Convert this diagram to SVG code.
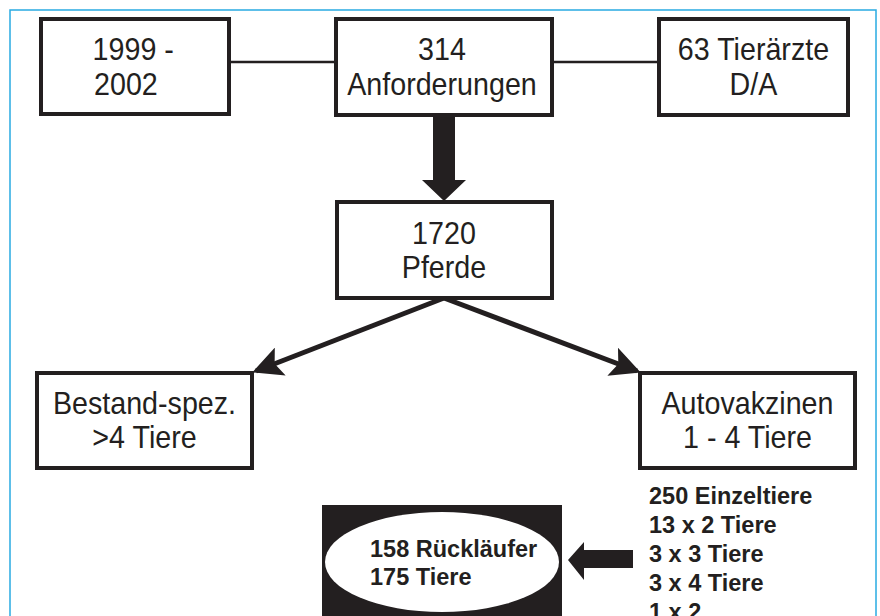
<svg xmlns="http://www.w3.org/2000/svg" width="880" height="616" viewBox="0 0 880 616">
<style>
.frame{fill:none;stroke:#29abe2;stroke-width:1.5}
.box{fill:#fff;stroke:#231f20;stroke-width:4}
.t{font-family:"Liberation Sans",Arial,sans-serif;font-size:30.5px;fill:#231f20;text-anchor:middle;transform-box:fill-box;transform-origin:center;transform:scaleX(0.94)}
.b{font-family:"Liberation Sans",Arial,sans-serif;font-size:23.5px;font-weight:bold;fill:#231f20}
.ln{stroke:#231f20;stroke-width:2.5;fill:none}
.ar{stroke:#231f20;stroke-width:5;fill:none}
.fill{fill:#231f20}
</style>
<defs>
<marker id="ah" markerWidth="6" markerHeight="6" refX="5.2" refY="3" orient="auto" markerUnits="strokeWidth" viewBox="0 0 6 6">
<path d="M0,0 L6,3 L0,6 L1.2,3 Z" fill="#231f20"/>
</marker>
</defs>
<rect class="frame" x="10" y="10" width="866" height="620"/>
<g id="connectors">
<line class="ln" x1="230" y1="62" x2="335" y2="62"/>
<line class="ln" x1="552" y1="62" x2="658" y2="62"/>
<path class="fill" d="M433,116 L455,116 L455,180 L466,180 L444,201 L422,180 L433,180 Z"/>
<line class="ar" x1="444" y1="298" x2="256" y2="371" marker-end="url(#ah)"/>
<line class="ar" x1="444" y1="298" x2="637" y2="371" marker-end="url(#ah)"/>
<path class="fill" d="M633,550 L584,550 L584,542 L568,560 L584,580 L584,568 L633,568 Z"/>
</g>
<g id="n1999">
<rect class="box" x="41" y="19" width="188" height="95"/>
<text class="t" x="90" y="60" style="text-anchor:start">1999 -</text>
<text class="t" x="92" y="95" style="text-anchor:start">2002</text>
</g>
<g id="n314">
<rect class="box" x="336" y="19" width="216" height="96"/>
<text class="t" x="442" y="60">314</text>
<text class="t" x="442" y="95">Anforderungen</text>
</g>
<g id="n63">
<rect class="box" x="659" y="19" width="189" height="96"/>
<text class="t" x="753.5" y="60">63 Tierärzte</text>
<text class="t" x="753.5" y="95">D/A</text>
</g>
<g id="n1720">
<rect class="box" x="337" y="202" width="215" height="96"/>
<text class="t" x="444" y="244">1720</text>
<text class="t" x="444" y="278">Pferde</text>
</g>
<g id="nBestand">
<rect class="box" x="37" y="373" width="215" height="95"/>
<text class="t" x="144.5" y="414">Bestand-spez.</text>
<text class="t" x="144.5" y="448">&gt;4 Tiere</text>
</g>
<g id="nAuto">
<rect class="box" x="640" y="373" width="215" height="95"/>
<text class="t" x="747.5" y="414">Autovakzinen</text>
<text class="t" x="747.5" y="448">1 - 4 Tiere</text>
</g>
<g id="nRueck">
<rect x="322" y="505" width="240" height="120" fill="#231f20"/>
<ellipse cx="442" cy="562" rx="117" ry="50" fill="#fff"/>
<text class="b" x="370" y="557">158 Rückläufer</text>
<text class="b" x="370" y="585">175 Tiere</text>
</g>
<g id="nList">
<text class="b" x="649" y="504">250 Einzeltiere</text>
<text class="b" x="649" y="533">13 x 2 Tiere</text>
<text class="b" x="649" y="562">3 x 3 Tiere</text>
<text class="b" x="649" y="591">3 x 4 Tiere</text>
<text class="b" x="649" y="620">1 x 2</text>
</g>
</svg>
